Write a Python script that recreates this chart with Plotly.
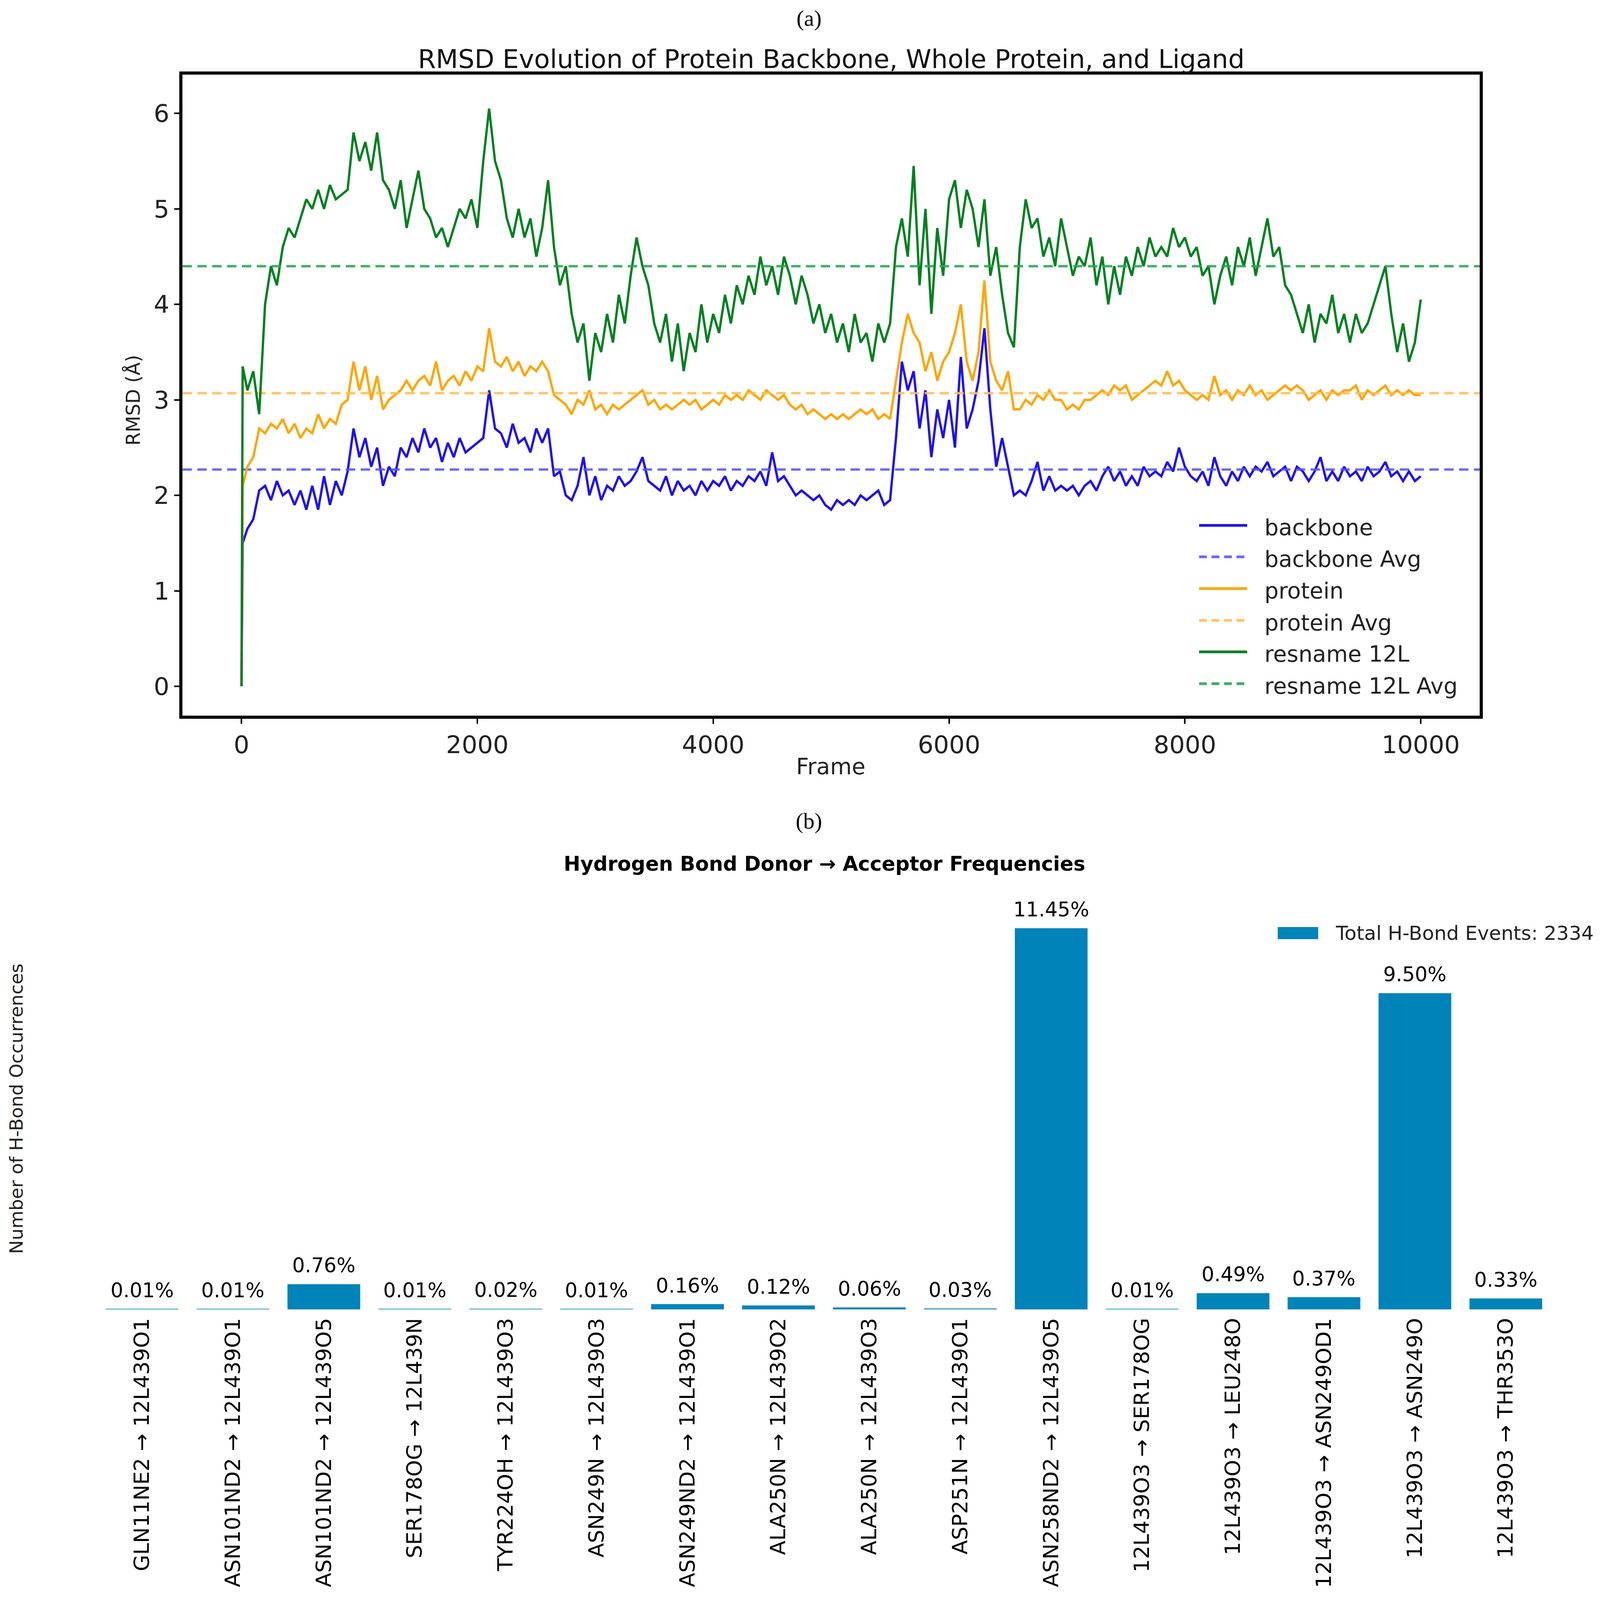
import plotly.graph_objects as go

# Reference picture size (used only to place things proportionally)
REF_W, REF_H = 4190, 4477
# The rendered page area that is actually photographed is about 4096 x 4096 with an 8px body margin
CANVAS = 4096
MARGIN = 8
W, H = 4080, 4080

# ---------------- Panel (a): RMSD data ----------------
FRAMES = [0, 10] + list(range(50, 10001, 50))

BACKBONE = [
    0.0, 1.5, 1.65, 1.75, 2.05, 2.1, 1.95, 2.15, 2.0, 2.05, 1.9, 2.05, 1.85, 2.1, 1.85, 2.2, 1.9, 2.15, 2.0, 2.25, 2.7,
    2.4, 2.6, 2.3, 2.5, 2.1, 2.3, 2.2, 2.5, 2.4, 2.6, 2.45, 2.7, 2.5, 2.6, 2.35, 2.55, 2.4, 2.6, 2.45, 2.5,
    2.55, 2.6, 3.1, 2.7, 2.65, 2.5, 2.75, 2.55, 2.6, 2.45, 2.7, 2.55, 2.7, 2.2, 2.25, 2.0, 1.95, 2.1, 2.4, 2.0,
    2.2, 1.95, 2.1, 2.05, 2.2, 2.1, 2.15, 2.25, 2.4, 2.15, 2.1, 2.05, 2.2, 2.0, 2.15, 2.05, 2.1, 2.0, 2.15, 2.05,
    2.15, 2.1, 2.2, 2.05, 2.15, 2.1, 2.2, 2.15, 2.25, 2.1, 2.45, 2.15, 2.2, 2.1, 2.0, 2.05, 2.0, 1.95, 2.0, 1.9,
    1.85, 1.95, 1.9, 1.95, 1.9, 2.0, 1.95, 2.0, 2.05, 1.9, 1.95, 2.6, 3.4, 3.1, 3.3, 2.7, 3.1, 2.4, 2.9, 2.6,
    3.0, 2.5, 3.45, 2.7, 2.9, 3.2, 3.75, 2.9, 2.3, 2.6, 2.3, 2.0, 2.05, 2.0, 2.15, 2.35, 2.05, 2.2, 2.05, 2.1,
    2.05, 2.1, 2.0, 2.1, 2.15, 2.05, 2.2, 2.3, 2.15, 2.25, 2.1, 2.2, 2.1, 2.3, 2.2, 2.25, 2.2, 2.35, 2.25, 2.5,
    2.3, 2.2, 2.15, 2.25, 2.1, 2.4, 2.2, 2.1, 2.25, 2.15, 2.3, 2.2, 2.3, 2.25, 2.35, 2.2, 2.25, 2.3, 2.15, 2.3,
    2.25, 2.15, 2.25, 2.4, 2.15, 2.25, 2.15, 2.3, 2.2, 2.25, 2.15, 2.3, 2.2, 2.25, 2.35, 2.2, 2.25, 2.15, 2.25, 2.15,
    2.2,
]

PROTEIN = [
    0.0, 2.1, 2.3, 2.4, 2.7, 2.65, 2.75, 2.7, 2.8, 2.65, 2.75, 2.6, 2.7, 2.65, 2.85, 2.7, 2.8, 2.75, 2.95, 3.0, 3.4,
    3.1, 3.35, 3.0, 3.25, 2.9, 3.0, 3.05, 3.1, 3.2, 3.1, 3.2, 3.25, 3.15, 3.4, 3.1, 3.2, 3.25, 3.15, 3.3, 3.2,
    3.35, 3.3, 3.75, 3.4, 3.35, 3.45, 3.3, 3.4, 3.25, 3.35, 3.3, 3.4, 3.3, 3.05, 3.0, 2.95, 2.85, 3.0, 2.95, 3.1,
    2.9, 2.95, 2.85, 2.95, 2.9, 2.95, 3.0, 3.05, 3.1, 2.95, 3.0, 2.9, 2.95, 2.9, 2.95, 3.0, 2.95, 3.0, 2.9, 2.95,
    3.0, 2.95, 3.05, 3.0, 3.05, 3.0, 3.1, 3.05, 3.0, 3.1, 3.05, 3.0, 3.05, 2.95, 2.9, 2.95, 2.85, 2.9, 2.85, 2.8,
    2.85, 2.8, 2.85, 2.8, 2.85, 2.9, 2.85, 2.9, 2.8, 2.85, 2.8, 3.2, 3.6, 3.9, 3.7, 3.6, 3.3, 3.5, 3.2, 3.4,
    3.5, 3.7, 4.0, 3.4, 3.2, 3.5, 4.25, 3.4, 3.2, 3.1, 3.3, 2.9, 2.9, 3.0, 2.95, 3.05, 3.0, 3.1, 3.0, 3.0,
    2.9, 2.95, 2.9, 3.0, 3.0, 3.05, 3.1, 3.05, 3.15, 3.1, 3.15, 3.0, 3.05, 3.1, 3.15, 3.2, 3.15, 3.3, 3.15, 3.2,
    3.1, 3.05, 3.0, 3.05, 3.0, 3.25, 3.05, 3.1, 3.0, 3.1, 3.05, 3.15, 3.05, 3.1, 3.0, 3.05, 3.1, 3.15, 3.1, 3.15,
    3.1, 3.0, 3.05, 3.1, 3.0, 3.1, 3.05, 3.1, 3.1, 3.15, 3.0, 3.1, 3.05, 3.1, 3.15, 3.05, 3.1, 3.05, 3.1, 3.05,
    3.05,
]

LIGAND = [
    0.0, 3.35, 3.1, 3.3, 2.85, 4.0, 4.4, 4.2, 4.6, 4.8, 4.7, 4.9, 5.1, 5.0, 5.2, 5.0, 5.25, 5.1, 5.15, 5.2, 5.8,
    5.5, 5.7, 5.4, 5.8, 5.3, 5.2, 5.0, 5.3, 4.8, 5.1, 5.4, 5.0, 4.9, 4.7, 4.8, 4.6, 4.8, 5.0, 4.9, 5.1,
    4.8, 5.5, 6.05, 5.5, 5.3, 4.9, 4.7, 5.0, 4.7, 4.9, 4.5, 4.8, 5.3, 4.6, 4.2, 4.4, 3.9, 3.6, 3.8, 3.2,
    3.7, 3.5, 3.9, 3.6, 4.1, 3.8, 4.3, 4.7, 4.4, 4.2, 3.8, 3.6, 3.9, 3.4, 3.8, 3.3, 3.7, 3.5, 4.0, 3.6,
    3.9, 3.7, 4.1, 3.8, 4.2, 4.0, 4.3, 4.1, 4.5, 4.2, 4.4, 4.1, 4.5, 4.3, 4.0, 4.3, 4.1, 3.8, 4.0, 3.7,
    3.9, 3.6, 3.8, 3.5, 3.9, 3.6, 3.7, 3.4, 3.8, 3.6, 3.8, 4.6, 4.9, 4.5, 5.45, 4.2, 5.0, 3.9, 4.8, 4.3,
    5.1, 5.3, 4.8, 5.2, 5.0, 4.6, 5.1, 4.3, 4.6, 4.1, 3.7, 3.55, 4.6, 5.1, 4.8, 4.9, 4.5, 4.7, 4.4, 4.9,
    4.6, 4.3, 4.5, 4.4, 4.7, 4.2, 4.5, 4.0, 4.4, 4.1, 4.5, 4.3, 4.6, 4.4, 4.7, 4.5, 4.6, 4.5, 4.8, 4.6,
    4.7, 4.5, 4.6, 4.3, 4.4, 4.0, 4.3, 4.5, 4.2, 4.6, 4.4, 4.7, 4.3, 4.6, 4.9, 4.5, 4.6, 4.2, 4.1, 3.9,
    3.7, 4.0, 3.6, 3.9, 3.8, 4.1, 3.7, 3.9, 3.6, 3.9, 3.7, 3.8, 4.0, 4.2, 4.4, 3.9, 3.5, 3.8, 3.4, 3.6,
    4.05,
]

AVG_BACKBONE = 2.27
AVG_PROTEIN = 3.07
AVG_LIGAND = 4.40

SERIES_NAMES = ["backbone", "protein", "resname 12L"]
X_TICKS_A = [0, 2000, 4000, 6000, 8000, 10000]
Y_TICKS_A = [0, 1, 2, 3, 4, 5, 6]

# ---------------- Panel (b): H-bond data ----------------
HB_LABELS = [
    "GLN11NE2 → 12L439O1",
    "ASN101ND2 → 12L439O1",
    "ASN101ND2 → 12L439O5",
    "SER178OG → 12L439N",
    "TYR224OH → 12L439O3",
    "ASN249N → 12L439O3",
    "ASN249ND2 → 12L439O1",
    "ALA250N → 12L439O2",
    "ALA250N → 12L439O3",
    "ASP251N → 12L439O1",
    "ASN258ND2 → 12L439O5",
    "12L439O3 → SER178OG",
    "12L439O3 → LEU248O",
    "12L439O3 → ASN249OD1",
    "12L439O3 → ASN249O",
    "12L439O3 → THR353O",
]
HB_COUNTS = [1, 1, 76, 1, 2, 1, 16, 12, 6, 3, 1145, 1, 49, 37, 950, 33]
N_FRAMES = 10000

assert len(BACKBONE) == len(FRAMES) == len(PROTEIN) == len(LIGAND)


# ---------------- helpers: reference-pixel -> paper fraction ----------------
def px(x):
    return (x * CANVAS / REF_W - MARGIN) / W


def py(y):
    return 1 - (y * CANVAS / REF_H - MARGIN) / H


FONT = "DejaVu Sans"
BLUE = "#1f10f0"
ORANGE = "#ffa500"
GREEN = "#008020"
BLUE_AVG = "rgba(80,80,255,0.85)"
ORANGE_AVG = "rgba(255,190,80,0.9)"
GREEN_AVG = "rgba(40,165,80,0.9)"
BAR = "#0083b9"
LW = 6
DASH = "24px,14px"

XR_A = [-500, 10500]
YR_A = [-0.305, 6.405]

fig = go.Figure()

series = [
    (BACKBONE, AVG_BACKBONE, BLUE, BLUE_AVG, SERIES_NAMES[0]),
    (PROTEIN, AVG_PROTEIN, ORANGE, ORANGE_AVG, SERIES_NAMES[1]),
    (LIGAND, AVG_LIGAND, GREEN, GREEN_AVG, SERIES_NAMES[2]),
]
for vals, avg, col, acol, name in series:
    fig.add_trace(go.Scatter(x=FRAMES, y=vals, mode="lines", name=name,
                             line=dict(color=col, width=LW), xaxis="x", yaxis="y",
                             showlegend=False))
    fig.add_trace(go.Scatter(x=XR_A, y=[avg, avg], mode="lines", name=name + " Avg",
                             line=dict(color=acol, width=LW, dash=DASH), xaxis="x", yaxis="y",
                             showlegend=False))

# bars
xs = list(range(len(HB_COUNTS)))
fig.add_trace(go.Bar(x=xs, y=HB_COUNTS, marker=dict(color=BAR, line=dict(width=0)),
                     width=0.8, name="Total H-Bond Events: %d" % sum(HB_COUNTS),
                     xaxis="x2", yaxis="y2", showlegend=False))

ann = []
shapes = []

# value labels above bars
for i, c in enumerate(HB_COUNTS):
    ann.append(dict(x=i, y=c, xref="x2", yref="y2", text="%.2f%%" % (c / N_FRAMES * 100),
                    showarrow=False, xanchor="center", yanchor="bottom", yshift=16,
                    font=dict(family=FONT, size=51, color="black")))


def pa(x, y, text, size, family=FONT, color="#222", **kw):
    d = dict(x=px(x), y=py(y), xref="paper", yref="paper", text=text, showarrow=False,
             xanchor="center", yanchor="middle", font=dict(family=family, size=size, color=color))
    d.update(kw)
    return d


ann += [
    pa(2119, 51, "(a)", 58, family="Liberation Serif", color="black"),
    pa(2177, 166, "RMSD Evolution of Protein Backbone, Whole Protein, and Ligand", 66, color="#111"),
    pa(2176, 2145, "Frame", 57),
    pa(349, 1120, "RMSD (Å)", 49, textangle=-90),
    pa(2119, 2297, "(b)", 58, family="Liberation Serif", color="black"),
    pa(2159, 2417, "<b>Hydrogen Bond Donor → Acceptor Frequencies</b>", 51, color="black"),
    pa(43, 3103, "Number of H-Bond Occurrences", 47, textangle=-90),
    pa(3495, 2611, "Total H-Bond Events: %d" % sum(HB_COUNTS), 50, xanchor="left"),
]

# legend (a)
leg_rows = [1476, 1564, 1653, 1742, 1830, 1919]
leg_items = [
    (SERIES_NAMES[0], BLUE, None), (SERIES_NAMES[0] + " Avg", BLUE_AVG, DASH),
    (SERIES_NAMES[1], ORANGE, None), (SERIES_NAMES[1] + " Avg", ORANGE_AVG, DASH),
    (SERIES_NAMES[2], GREEN, None), (SERIES_NAMES[2] + " Avg", GREEN_AVG, DASH),
]
for yy, (txt, col, dash) in zip(leg_rows, leg_items):
    ln = dict(color=col, width=LW + 1)
    if dash:
        ln["dash"] = "20px,12px"
    shapes.append(dict(type="line", xref="paper", yref="paper", x0=px(3140), x1=px(3266),
                       y0=py(yy - 6), y1=py(yy - 6), line=ln))
    ann.append(pa(3309, yy, txt, 57, xanchor="left"))

# legend (b)
shapes.append(dict(type="rect", xref="paper", yref="paper", x0=px(3346), x1=px(3452),
                   y0=py(2628), y1=py(2594), fillcolor=BAR, line=dict(width=0)))

ymax_b = max(HB_COUNTS) * 1.05
bar_unit = 238.1   # reference pixels between bar centres
xb_left = 229      # reference pixel of x = -0.6

fig.update_layout(
    width=W, height=H,
    margin=dict(l=0, r=0, t=0, b=0),
    paper_bgcolor="white", plot_bgcolor="white",
    showlegend=False,
    xaxis=dict(domain=[px(478), px(3875)], anchor="y", range=XR_A, tickvals=X_TICKS_A,
               ticktext=[str(v) for v in X_TICKS_A],
               showgrid=False, zeroline=False, showline=True, mirror=True, linecolor="black",
               linewidth=8, ticks="outside", ticklen=13, tickwidth=4, tickcolor="black",
               tickfont=dict(family=FONT, size=63, color="#222")),
    yaxis=dict(domain=[py(2002), py(209)], anchor="x", range=YR_A, tickvals=Y_TICKS_A,
               ticktext=[str(v) for v in Y_TICKS_A],
               showgrid=False, zeroline=False, showline=True, mirror=True, linecolor="black",
               linewidth=8, ticks="outside", ticklen=13, tickwidth=4, tickcolor="black",
               tickfont=dict(family=FONT, size=63, color="#222")),
    xaxis2=dict(domain=[px(xb_left), px(xb_left + 16.2 * bar_unit)], anchor="y2", range=[-0.6, 15.6],
                tickvals=xs, ticktext=HB_LABELS, tickangle=-90, showgrid=False, zeroline=False,
                showline=False, ticks="", ticklabelstandoff=10,
                tickfont=dict(family=FONT, size=54, color="black")),
    yaxis2=dict(domain=[py(3664), py(2544)], anchor="x2", range=[0, ymax_b], showgrid=False,
                zeroline=False, showline=False, showticklabels=False, ticks=""),
    annotations=ann,
    shapes=shapes,
)

fig.write_html("out.html")
